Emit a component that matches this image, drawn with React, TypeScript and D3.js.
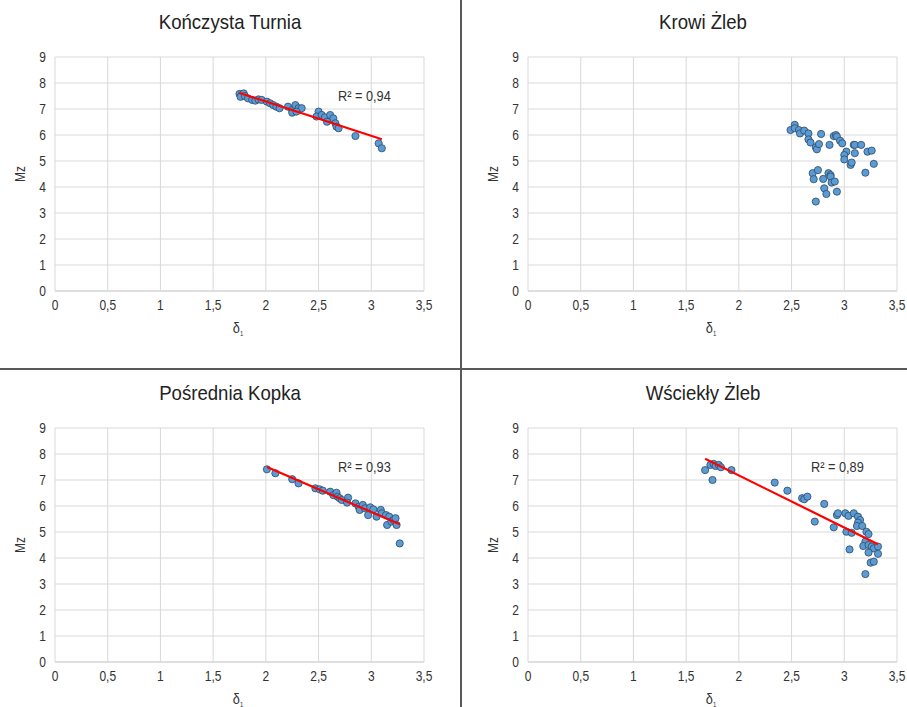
import React from "react";
import * as d3 from "d3";

const titles = ["Kończysta Turnia", "Krowi Żleb", "Pośrednia Kopka", "Wściekły Żleb"];
const r2Labels = ["R² = 0,94", "", "R² = 0,93", "R² = 0,89"];
const xTicks = [0, 0.5, 1, 1.5, 2, 2.5, 3, 3.5];
const yTicks = [0, 1, 2, 3, 4, 5, 6, 7, 8, 9];

const konczystaX = [1.75,1.77,1.79,1.76,1.80,1.83,1.87,1.90,1.93,1.96,2.01,2.04,2.07,2.10,2.13,2.21,2.25,2.28,2.31,2.34,2.25,2.29,2.50,2.48,2.53,2.56,2.61,2.64,2.58,2.66,2.67,2.69,2.85,3.07,3.10];
const konczystaY = [7.58,7.54,7.60,7.47,7.50,7.41,7.35,7.32,7.37,7.35,7.28,7.22,7.15,7.09,7.03,7.09,6.96,7.15,7.03,7.03,6.86,6.90,6.90,6.71,6.77,6.68,6.77,6.64,6.51,6.45,6.32,6.26,5.96,5.68,5.49];

const krowiX = [2.49,2.53,2.53,2.57,2.58,2.62,2.66,2.66,2.68,2.73,2.74,2.76,2.78,2.86,2.90,2.92,2.93,2.96,2.98,3.02,3.00,3.00,3.06,3.07,3.09,3.10,3.10,3.16,3.22,3.26,3.28,3.20,2.70,2.75,2.71,2.80,2.85,2.87,2.87,2.88,2.91,2.81,2.83,2.93,2.73];
const krowiY = [6.19,6.39,6.26,6.19,6.06,6.17,6.06,5.83,5.71,5.53,5.45,5.65,6.04,5.62,5.96,6.00,5.94,5.78,5.68,5.36,5.23,5.06,4.85,4.94,5.62,5.62,5.30,5.62,5.36,5.40,4.89,4.55,4.53,4.65,4.30,4.31,4.53,4.46,4.40,4.17,4.21,3.95,3.73,3.82,3.44];

const posredniaX = [2.01,2.09,2.25,2.31,2.47,2.51,2.54,2.61,2.64,2.67,2.68,2.70,2.72,2.78,2.77,2.85,2.88,2.89,2.92,2.94,2.97,2.99,3.02,3.05,3.09,3.10,3.14,3.17,3.15,3.19,3.21,3.23,3.24,3.27];
const posredniaY = [7.41,7.26,7.03,6.87,6.68,6.64,6.59,6.55,6.42,6.51,6.36,6.30,6.23,6.32,6.13,6.10,5.97,5.85,6.04,5.91,5.65,5.95,5.87,5.59,5.85,5.72,5.65,5.59,5.27,5.40,5.46,5.53,5.27,4.56];

const wscieklyX = [1.68,1.73,1.75,1.76,1.78,1.81,1.83,1.93,2.34,2.46,2.60,2.62,2.65,2.72,2.81,2.90,2.93,2.94,3.01,3.04,3.09,3.02,3.07,3.05,3.13,3.15,3.13,3.12,3.17,3.21,3.23,3.20,3.18,3.23,3.26,3.28,3.32,3.23,3.32,3.25,3.28,3.20];
const wscieklyY = [7.38,7.58,7.00,7.62,7.54,7.58,7.49,7.38,6.90,6.59,6.30,6.26,6.36,5.40,6.08,5.18,5.65,5.72,5.72,5.62,5.72,5.01,4.97,4.33,5.59,5.46,5.36,5.23,5.23,5.01,4.92,4.63,4.46,4.50,4.44,4.37,4.44,4.21,4.16,3.82,3.86,3.38];

const seriesX = [konczystaX, krowiX, posredniaX, wscieklyX];
const seriesY = [konczystaY, krowiY, posredniaY, wscieklyY];
const showTrend = [true, false, true, true];

const FONT = "'Liberation Sans', Arial, sans-serif";

function fit(xs: number[], ys: number[]) {
  const mx = d3.mean(xs)!;
  const my = d3.mean(ys)!;
  let sxy = 0, sxx = 0;
  xs.forEach((x, i) => { sxy += (x - mx) * (ys[i] - my); sxx += (x - mx) * (x - mx); });
  const b = sxy / sxx;
  return { a: my - b * mx, b };
}

function T({ x, y, size, sx, anchor, rot, children, fill }: any) {
  return (
    <text
      transform={`translate(${x},${y})${rot ? ` rotate(${rot})` : ""} scale(${sx},1)`}
      textAnchor={anchor || "start"}
      fontSize={size}
      fill={fill || "#333"}
      fontFamily={FONT}
    >
      {children}
    </text>
  );
}

function Panel({ i }: { i: number }) {
  const ox = (i % 2) * 473;
  const oy = Math.floor(i / 2) * 371;
  const x = d3.scaleLinear().domain([0, 3.5]).range([ox + 55, ox + 424]);
  const y = d3.scaleLinear().domain([0, 9]).range([oy + 291, oy + 57]);
  const xs = seriesX[i];
  const ys = seriesY[i];
  const f = fit(xs, ys);
  const [x0, x1] = d3.extent(xs) as [number, number];
  const line = d3.line<number>().x((v) => x(v)).y((v) => y(f.a + f.b * v));
  return (
    <g>
      <T x={ox + 230} y={oy + 29} size={20} sx={0.93} anchor="middle" fill="#222">{titles[i]}</T>
      {yTicks.map((t) => (
        <line key={"h" + t} x1={x(0)} x2={x(3.5)} y1={y(t)} y2={y(t)} stroke={t === 0 ? "#bfbfbf" : "#d9d9d9"} strokeWidth={1} />
      ))}
      {xTicks.map((t) => (
        <line key={"v" + t} x1={x(t)} x2={x(t)} y1={y(0)} y2={y(9)} stroke="#d9d9d9" strokeWidth={1} />
      ))}
      {yTicks.map((t) => (
        <T key={"yl" + t} x={x(0) - 9} y={y(t) + 5} size={15} sx={0.8} anchor="end">{t}</T>
      ))}
      {xTicks.map((t) => (
        <T key={"xl" + t} x={x(t)} y={y(0) + 19} size={15} sx={0.8} anchor="middle">{String(t).replace(".", ",")}</T>
      ))}
      <T x={ox + 25} y={oy + 174} rot={-90} size={14} sx={0.85} anchor="middle">Mz</T>
      <T x={ox + 238} y={oy + 333} size={15} sx={0.85} anchor="middle">δ<tspan fontSize={7} dy={3}>1</tspan></T>
      {xs.map((v, k) => (
        <circle key={k} cx={x(v)} cy={y(ys[k])} r={3.6} fill="#5b9bd5" stroke="#2e4a66" strokeWidth={0.8} />
      ))}
      {showTrend[i] && (
        <path d={line([x0, x1]) || ""} stroke="#ff0000" strokeWidth={2.2} fill="none" />
      )}
      {r2Labels[i] && (
        <T x={ox + 338} y={oy + 101} size={15} sx={0.85}>{r2Labels[i]}</T>
      )}
    </g>
  );
}

export default function App() {
  return (
    <svg width={907} height={707} style={{ position: "absolute", left: 0, top: 0, background: "#fff" }}>
      <rect width={907} height={707} fill="#fff" />
      {[0, 1, 2, 3].map((i) => <Panel key={i} i={i} />)}
      <line x1={0} x2={907} y1={369} y2={369} stroke="#595959" strokeWidth={2} />
      <line x1={461} x2={461} y1={0} y2={707} stroke="#595959" strokeWidth={2} />
    </svg>
  );
}
